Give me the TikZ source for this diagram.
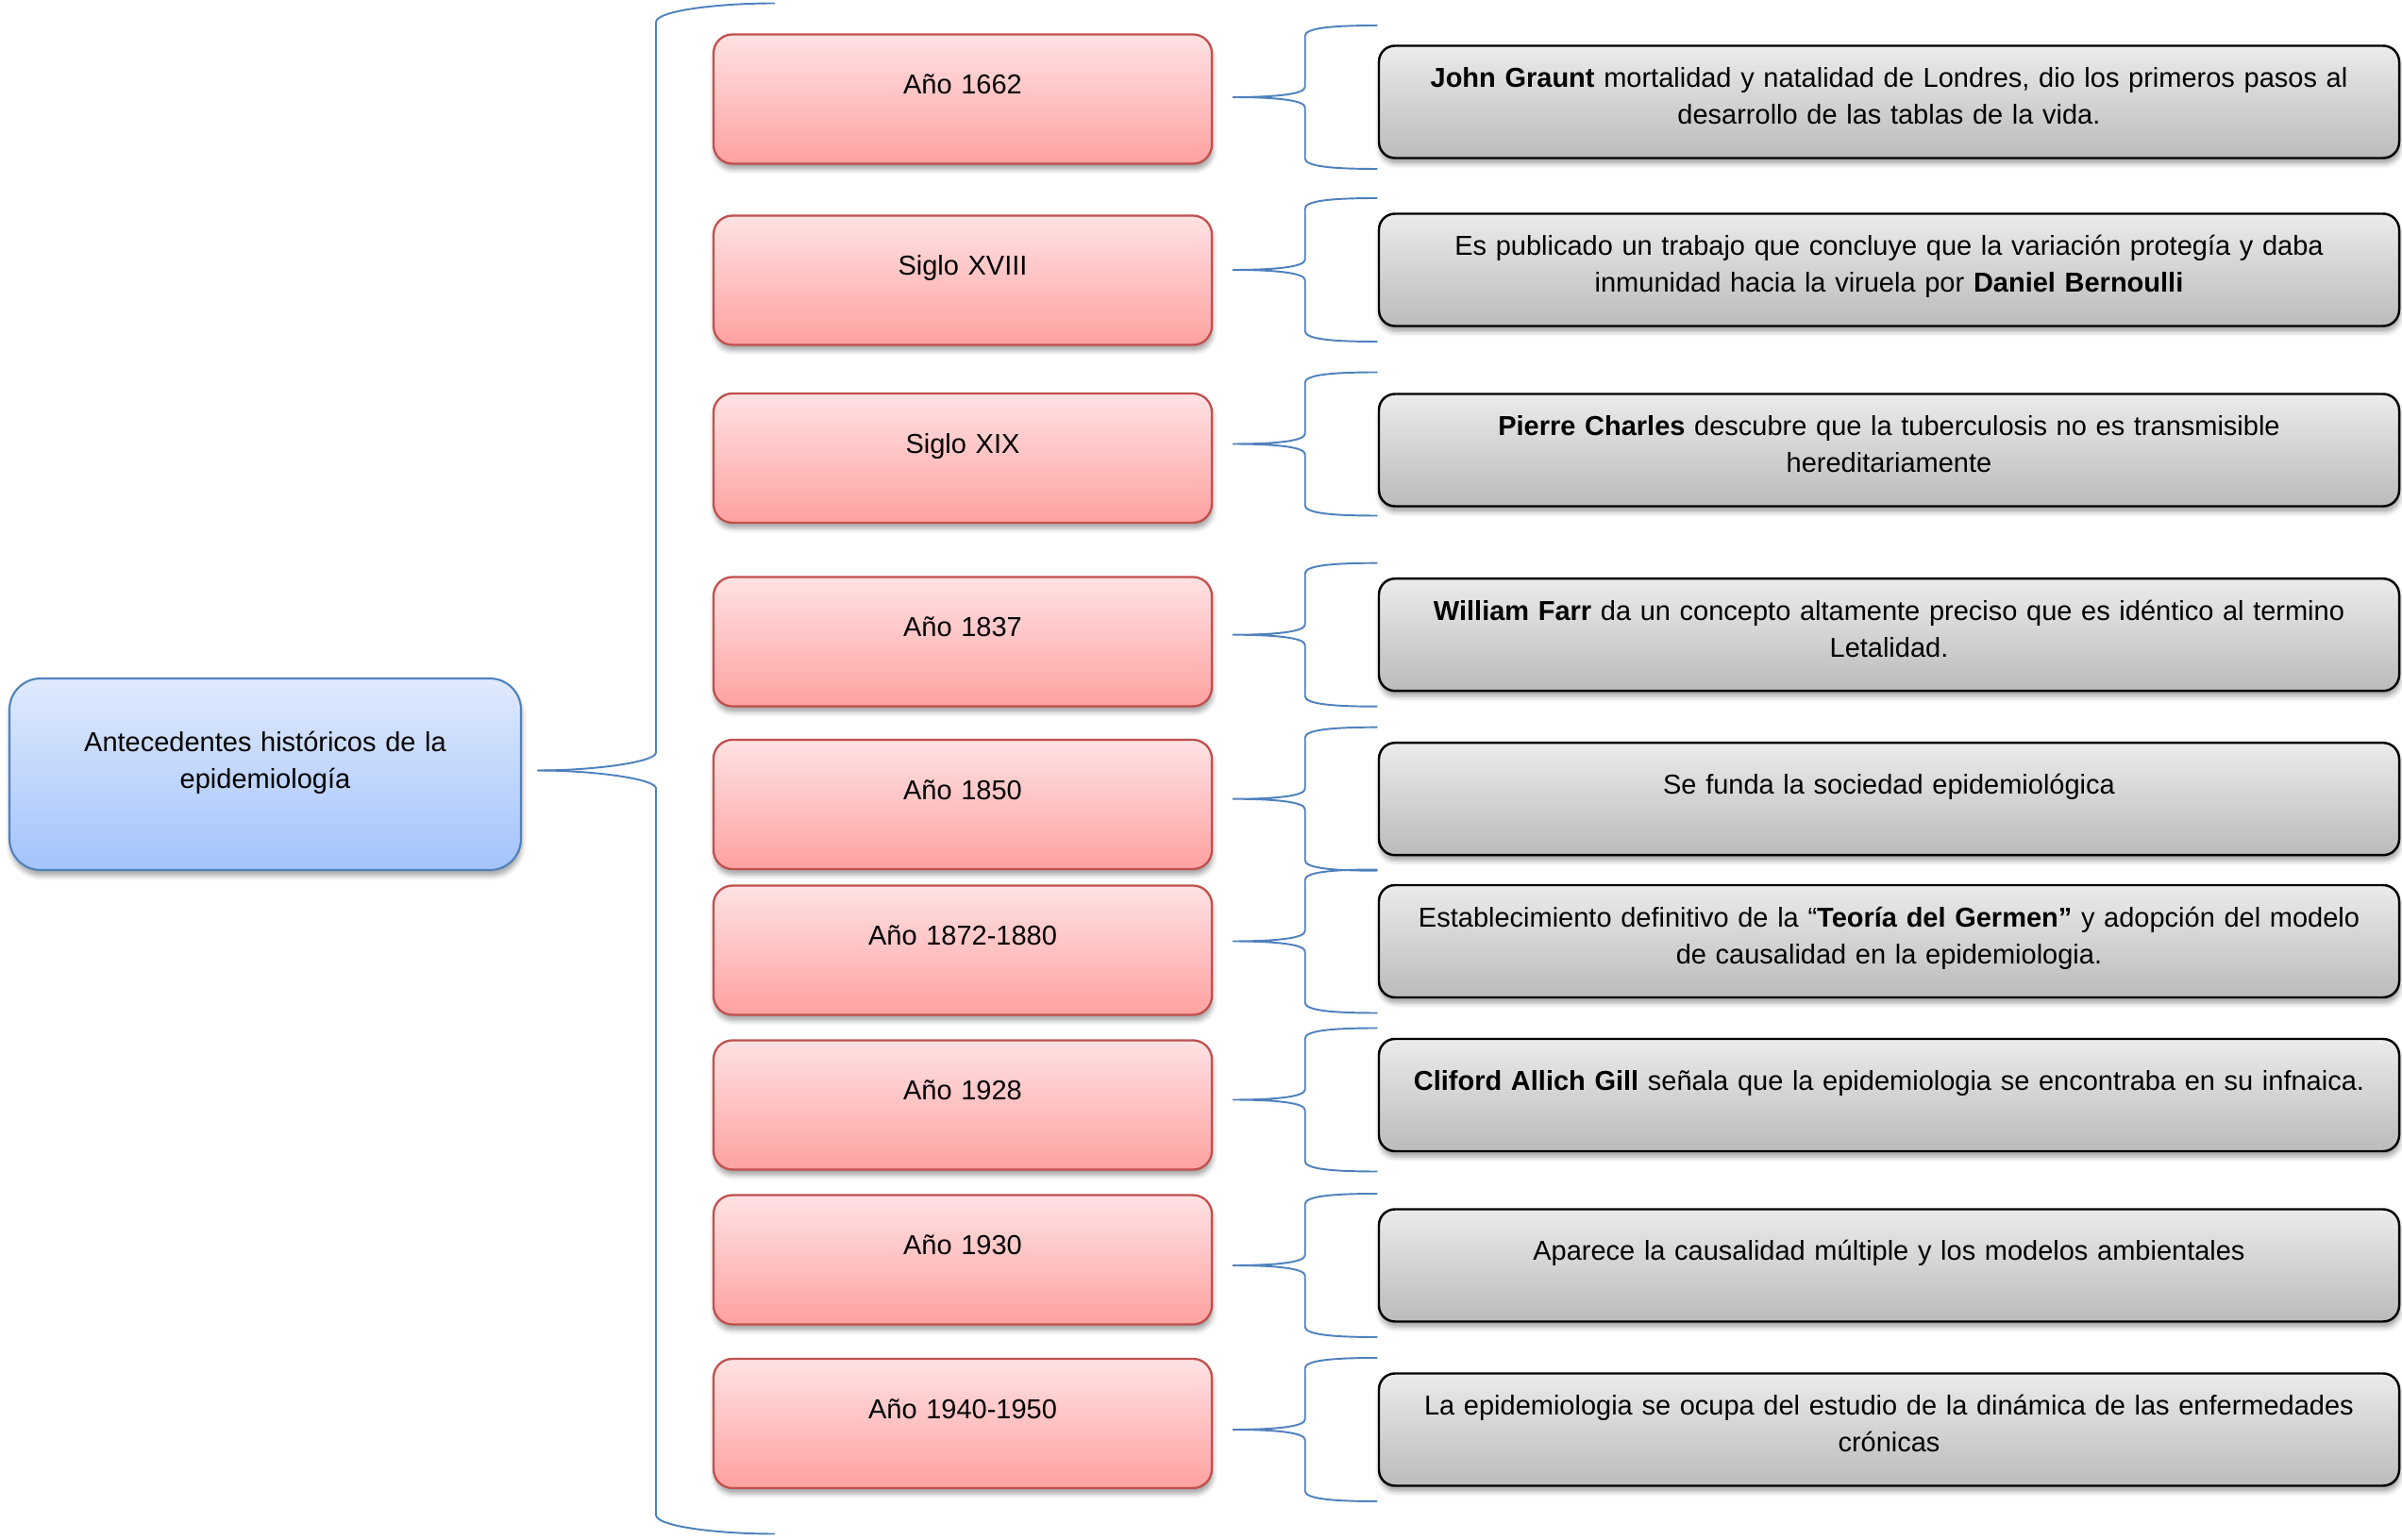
\documentclass[tikz,border=0pt]{standalone}
\usepackage{fontspec}
\setmainfont{Liberation Sans}
\usepackage{tikz}
\usetikzlibrary{shadows.blur}

\begin{document}
\begin{tikzpicture}
		[line cap=round,
		%Styles
		every node/.style={font=\fontsize{8.25}{11}\selectfont},
		sombra/.style={blur shadow={shadow xshift=0.01cm,shadow yshift=-0.06cm,shadow blur radius=0.05cm,shadow opacity=35}},
		tema/.style={rectangle,rounded corners=0.33cm,draw=bordeazul,line width=0.6pt,top color=azularriba,bottom color=azulabajo,sombra,
			text width=5.22cm,align=center,inner xsep=0.1cm,inner ysep=0pt,text height=0.775cm,text depth=1.255cm},
		epoca/.style={rectangle,rounded corners=0.2cm,draw=bordeRojo,line width=0.65pt,top color=rojoarriba,bottom color=rojoabajo,sombra,
			text width=5.08cm,align=center,inner xsep=0.1cm,inner ysep=0pt,text height=0.635cm,text depth=0.735cm},
		hecho/.style={rectangle,rounded corners=0.17cm,draw=black,line width=0.7pt,top color=grisarriba,bottom color=grisabajo,sombra,
			text width=10.61cm,align=center,inner xsep=0.1cm,inner ysep=0pt,text height=0.445cm,text depth=0.745cm},
		hecho corto/.style={hecho,text height=0.545cm,text depth=0.645cm},
		llave/.style={draw=llavecolor,line width=0.55pt}
		]
		
		%Colors
		\definecolor{bordeazul}{HTML}{4F81BD}
		\definecolor{azularriba}{HTML}{E0EAFD}
		\definecolor{azulabajo}{HTML}{A3C3FB}
		\definecolor{bordeRojo}{HTML}{C0504D}
		\definecolor{rojoarriba}{HTML}{FFE2E3}
		\definecolor{rojoabajo}{HTML}{FFA1A1}
		\definecolor{grisarriba}{HTML}{EBEBEB}
		\definecolor{grisabajo}{HTML}{BBBBBB}
		\definecolor{llavecolor}{HTML}{4F81BD}
		
		\useasboundingbox (0,0) rectangle (25.45,-16.32);
		
		%The graphic
		\node[tema] (tema) at (2.81,-8.205) {Antecedentes históricos de la\\ epidemiología};
		
		\node[epoca] (e1) at (10.20,-1.05) {Año 1662};
		\node[epoca] (e2) at (10.20,-2.97) {Siglo XVIII};
		\node[epoca] (e3) at (10.20,-4.855) {Siglo XIX};
		\node[epoca] (e4) at (10.20,-6.80) {Año 1837};
		\node[epoca] (e5) at (10.20,-8.525) {Año 1850};
		\node[epoca] (e6) at (10.20,-10.07) {Año 1872-1880};
		\node[epoca] (e7) at (10.20,-11.71) {Año 1928};
		\node[epoca] (e8) at (10.20,-13.35) {Año 1930};
		\node[epoca] (e9) at (10.20,-15.085) {Año 1940-1950};
		
		\node[hecho] (h1) at (20.015,-1.08) {\textbf{John Graunt} mortalidad y natalidad de Londres, dio los primeros pasos al\\ desarrollo de las tablas de la vida.};
		\node[hecho] (h2) at (20.015,-2.86) {Es publicado un trabajo que concluye que la variación protegía y daba\\ inmunidad hacia la viruela por \textbf{Daniel Bernoulli}};
		\node[hecho] (h3) at (20.015,-4.77) {\textbf{Pierre Charles} descubre que la tuberculosis no es transmisible\\ hereditariamente};
		\node[hecho] (h4) at (20.015,-6.727) {\textbf{William Farr} da un concepto altamente preciso que es idéntico al termino\\ Letalidad.};
		\node[hecho corto] (h5) at (20.015,-8.467) {Se funda la sociedad epidemiológica};
		\node[hecho] (h6) at (20.015,-9.975) {Establecimiento definitivo de la “\textbf{Teoría del Germen”} y adopción del modelo\\ de causalidad en la epidemiologia.};
		\node[hecho corto] (h7) at (20.015,-11.605) {\textbf{Cliford Allich Gill} señala que la epidemiologia se encontraba en su infnaica.};
		\node[hecho corto] (h8) at (20.015,-13.41) {Aparece la causalidad múltiple y los modelos ambientales};
		\node[hecho] (h9) at (20.015,-15.15) {La epidemiologia se ocupa del estudio de la dinámica de las enfermedades\\ crónicas};
		
		%Big brace
		\draw[llave] (tema.east) ++(0.17,0.04) .. controls +(0.6,0) and +(0,-0.1) .. ++(1.25,0.19) -- ++(0,7.74) .. controls +(0,0.12) and +(-0.6,0) .. ++(1.25,0.2);
		\draw[llave] (tema.east) ++(0.17,0.04) .. controls +(0.6,0) and +(0,0.1) .. ++(1.25,-0.19) -- ++(0,-7.7) .. controls +(0,-0.12) and +(-0.6,0) .. ++(1.25,-0.2);
		
		%Small braces
		\draw[llave] (h1.west) ++(-0.01,0.81) .. controls +(-0.5,0) and +(0,0.08) .. ++(-0.76,-0.11) -- ++(0,-0.54) .. controls +(0,-0.08) and +(0.45,0) .. ++(-0.77,-0.11) .. controls +(0.45,0) and +(0,0.08) .. ++(0.77,-0.11) -- ++(0,-0.54) .. controls +(0,-0.08) and +(-0.5,0) .. ++(0.76,-0.11);
		\draw[llave] (h2.west) ++(-0.01,0.76) .. controls +(-0.5,0) and +(0,0.08) .. ++(-0.76,-0.11) -- ++(0,-0.54) .. controls +(0,-0.08) and +(0.45,0) .. ++(-0.77,-0.11) .. controls +(0.45,0) and +(0,0.08) .. ++(0.77,-0.11) -- ++(0,-0.54) .. controls +(0,-0.08) and +(-0.5,0) .. ++(0.76,-0.11);
		\draw[llave] (h3.west) ++(-0.01,0.825) .. controls +(-0.5,0) and +(0,0.08) .. ++(-0.76,-0.11) -- ++(0,-0.54) .. controls +(0,-0.08) and +(0.45,0) .. ++(-0.77,-0.11) .. controls +(0.45,0) and +(0,0.08) .. ++(0.77,-0.11) -- ++(0,-0.54) .. controls +(0,-0.08) and +(-0.5,0) .. ++(0.76,-0.11);
		\draw[llave] (h4.west) ++(-0.01,0.76) .. controls +(-0.5,0) and +(0,0.08) .. ++(-0.76,-0.11) -- ++(0,-0.54) .. controls +(0,-0.08) and +(0.45,0) .. ++(-0.77,-0.11) .. controls +(0.45,0) and +(0,0.08) .. ++(0.77,-0.11) -- ++(0,-0.54) .. controls +(0,-0.08) and +(-0.5,0) .. ++(0.76,-0.11);
		\draw[llave] (h5.west) ++(-0.01,0.76) .. controls +(-0.5,0) and +(0,0.08) .. ++(-0.76,-0.11) -- ++(0,-0.54) .. controls +(0,-0.08) and +(0.45,0) .. ++(-0.77,-0.11) .. controls +(0.45,0) and +(0,0.08) .. ++(0.77,-0.11) -- ++(0,-0.54) .. controls +(0,-0.08) and +(-0.5,0) .. ++(0.76,-0.11);
		\draw[llave] (h6.west) ++(-0.01,0.76) .. controls +(-0.5,0) and +(0,0.08) .. ++(-0.76,-0.11) -- ++(0,-0.54) .. controls +(0,-0.08) and +(0.45,0) .. ++(-0.77,-0.11) .. controls +(0.45,0) and +(0,0.08) .. ++(0.77,-0.11) -- ++(0,-0.54) .. controls +(0,-0.08) and +(-0.5,0) .. ++(0.76,-0.11);
		\draw[llave] (h7.west) ++(-0.01,0.71) .. controls +(-0.5,0) and +(0,0.08) .. ++(-0.76,-0.11) -- ++(0,-0.54) .. controls +(0,-0.08) and +(0.45,0) .. ++(-0.77,-0.11) .. controls +(0.45,0) and +(0,0.08) .. ++(0.77,-0.11) -- ++(0,-0.54) .. controls +(0,-0.08) and +(-0.5,0) .. ++(0.76,-0.11);
		\draw[llave] (h8.west) ++(-0.01,0.76) .. controls +(-0.5,0) and +(0,0.08) .. ++(-0.76,-0.11) -- ++(0,-0.54) .. controls +(0,-0.08) and +(0.45,0) .. ++(-0.77,-0.11) .. controls +(0.45,0) and +(0,0.08) .. ++(0.77,-0.11) -- ++(0,-0.54) .. controls +(0,-0.08) and +(-0.5,0) .. ++(0.76,-0.11);
		\draw[llave] (h9.west) ++(-0.01,0.76) .. controls +(-0.5,0) and +(0,0.08) .. ++(-0.76,-0.11) -- ++(0,-0.54) .. controls +(0,-0.08) and +(0.45,0) .. ++(-0.77,-0.11) .. controls +(0.45,0) and +(0,0.08) .. ++(0.77,-0.11) -- ++(0,-0.54) .. controls +(0,-0.08) and +(-0.5,0) .. ++(0.76,-0.11);
	\end{tikzpicture}
\end{document}
